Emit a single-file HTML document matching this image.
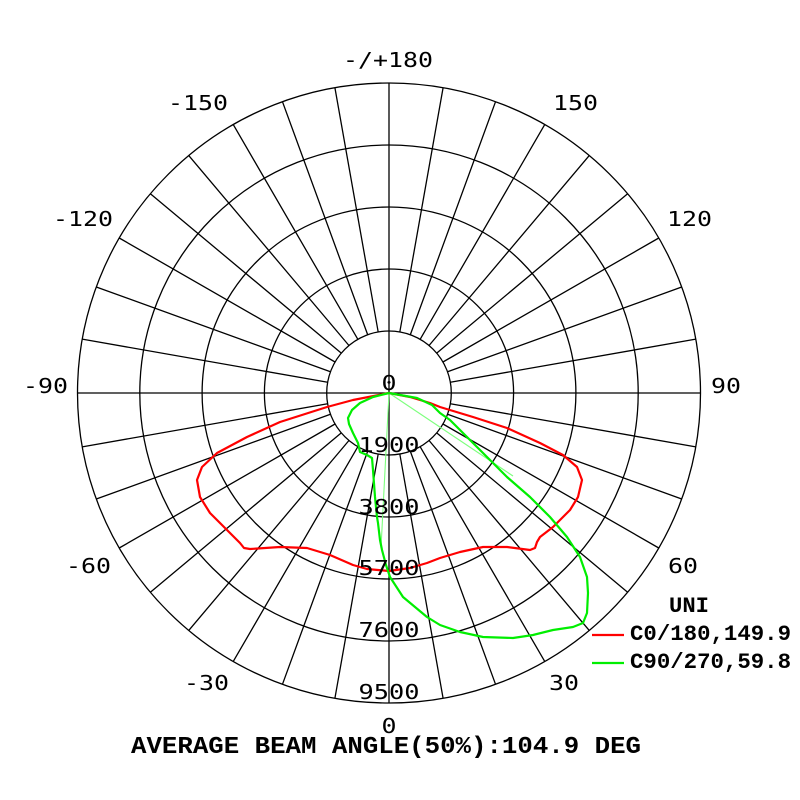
<!DOCTYPE html>
<html>
<head>
<meta charset="utf-8">
<style>
html,body{margin:0;padding:0;background:#fff;}
svg{display:block;}
.lab{font-family:"DejaVu Sans Mono","Liberation Mono",monospace;font-size:20px;fill:#000;}
.cour{font-family:"Liberation Mono","Courier New",monospace;font-weight:bold;fill:#000;}
</style>
</head>
<body>
<svg width="800" height="800" viewBox="0 0 800 800" xmlns="http://www.w3.org/2000/svg">
<rect x="0" y="0" width="800" height="800" fill="#fff"/>
<g transform="translate(389,393)" fill="none" stroke="#000" stroke-width="1.3">
  <ellipse cx="0" cy="0" rx="62.3" ry="62"/>
  <ellipse cx="0" cy="0" rx="124.6" ry="124"/>
  <ellipse cx="0" cy="0" rx="186.9" ry="186"/>
  <ellipse cx="0" cy="0" rx="249.2" ry="248"/>
  <ellipse cx="0" cy="0" rx="311.5" ry="310"/>
  <path d="M-311.5 0H311.5M0 -310V310
  M10.82 61.06L54.09 305.29M-10.82 61.06L-54.09 305.29M10.82 -61.06L54.09 -305.29M-10.82 -61.06L-54.09 -305.29
  M21.31 58.26L106.54 291.3M-21.31 58.26L-106.54 291.3M21.31 -58.26L106.54 -291.3M-21.31 -58.26L-106.54 -291.3
  M31.15 53.69L155.75 268.47M-31.15 53.69L-155.75 268.47M31.15 -53.69L155.75 -268.47M-31.15 -53.69L-155.75 -268.47
  M40.05 47.49L200.23 237.47M-40.05 47.49L-200.23 237.47M40.05 -47.49L200.23 -237.47M-40.05 -47.49L-200.23 -237.47
  M47.72 39.85L238.62 199.26M-47.72 39.85L-238.62 199.26M47.72 -39.85L238.62 -199.26M-47.72 -39.85L-238.62 -199.26
  M53.95 31L269.77 155M-53.95 31L-269.77 155M53.95 -31L269.77 -155M-53.95 -31L-269.77 -155
  M58.54 21.21L292.71 106.03M-58.54 21.21L-292.71 106.03M58.54 -21.21L292.71 -106.03M-58.54 -21.21L-292.71 -106.03
  M61.35 10.77L306.77 53.83M-61.35 10.77L-306.77 53.83M61.35 -10.77L306.77 -53.83M-61.35 -10.77L-306.77 -53.83"/>
</g>

<!-- thin beam-angle lines -->
<line x1="389" y1="393" x2="513" y2="476" stroke="#7dff7d" stroke-width="1.1"/>
<line x1="389" y1="393" x2="381" y2="548" stroke="#7dff7d" stroke-width="1.1"/>

<!-- red C0/180 curve -->
<polyline fill="none" stroke="#ff0000" stroke-width="2.2" stroke-linejoin="round" points="
389,393 353,400 327,407 280,422 247,437 217,453 202,467 197,480 200,497 210,513 230,533 240,543 244,548 250,549 280,547 307,548 330,555 353,565 367,569 389,571 410,568 427,563 440,558 460,552 483,547 507,547 530,550 535,548 537,542 540,537 553,527 570,510 578,497 582,480 577,467 563,455 540,443 507,428 473,417 440,407 430,403 410,397 389,393"/>

<!-- green C90/270 curve -->
<polyline fill="none" stroke="#00ee00" stroke-width="2.2" stroke-linejoin="round" points="
389,393 417,398 432,405 440,413 450,420 460,430 483,453 507,477 530,497 550,517 567,537 580,557 587,577 588,593 587,613 583,623 573,627 553,630 533,635 513,638 483,637 460,632 440,625 427,617 403,597 390,577 386,565 382,550 380,540 378,523 377,517 375,497 373,470 372,458 367,455 360,452 358,443 353,433 349,424 348,418 352,410 360,403 373,397 389,393"/>

<!-- angle labels -->
<text class="lab" x="388" y="67" text-anchor="middle" textLength="90" lengthAdjust="spacingAndGlyphs">-/+180</text>
<text class="lab" x="553" y="110" textLength="45" lengthAdjust="spacingAndGlyphs">150</text>
<text class="lab" x="228" y="110" text-anchor="end" textLength="60" lengthAdjust="spacingAndGlyphs">-150</text>
<text class="lab" x="667" y="226" textLength="45" lengthAdjust="spacingAndGlyphs">120</text>
<text class="lab" x="113" y="226" text-anchor="end" textLength="60" lengthAdjust="spacingAndGlyphs">-120</text>
<text class="lab" x="711" y="393" textLength="30" lengthAdjust="spacingAndGlyphs">90</text>
<text class="lab" x="68" y="393" text-anchor="end" textLength="45" lengthAdjust="spacingAndGlyphs">-90</text>
<text class="lab" x="668" y="573" textLength="30" lengthAdjust="spacingAndGlyphs">60</text>
<text class="lab" x="111" y="573" text-anchor="end" textLength="45" lengthAdjust="spacingAndGlyphs">-60</text>
<text class="lab" x="549" y="690" textLength="30" lengthAdjust="spacingAndGlyphs">30</text>
<text class="lab" x="229" y="690" text-anchor="end" textLength="45" lengthAdjust="spacingAndGlyphs">-30</text>
<text class="lab" x="389" y="733" text-anchor="middle" textLength="15" lengthAdjust="spacingAndGlyphs">0</text>

<!-- ring labels -->
<text class="lab" x="389" y="390" text-anchor="middle" textLength="15" lengthAdjust="spacingAndGlyphs">0</text>
<text class="lab" x="389" y="452" text-anchor="middle" textLength="61" lengthAdjust="spacingAndGlyphs">1900</text>
<text class="lab" x="389" y="514" text-anchor="middle" textLength="61" lengthAdjust="spacingAndGlyphs">3800</text>
<text class="lab" x="389" y="575" text-anchor="middle" textLength="61" lengthAdjust="spacingAndGlyphs">5700</text>
<text class="lab" x="389" y="637" text-anchor="middle" textLength="61" lengthAdjust="spacingAndGlyphs">7600</text>
<text class="lab" x="389" y="699" text-anchor="middle" textLength="61" lengthAdjust="spacingAndGlyphs">9500</text>

<!-- legend -->
<text class="cour" x="669" y="612" font-size="22" textLength="40" lengthAdjust="spacingAndGlyphs">UNI</text>
<line x1="592" y1="635" x2="624" y2="635" stroke="#ff0000" stroke-width="2.2"/>
<text class="cour" x="630" y="640" font-size="22" textLength="161" lengthAdjust="spacingAndGlyphs">C0/180,149.9</text>
<line x1="592" y1="663" x2="624" y2="663" stroke="#00ee00" stroke-width="2.2"/>
<text class="cour" x="630" y="668" font-size="22" textLength="161" lengthAdjust="spacingAndGlyphs">C90/270,59.8</text>

<!-- title -->
<text class="cour" x="131" y="753" font-size="24" textLength="510" lengthAdjust="spacingAndGlyphs">AVERAGE BEAM ANGLE(50%):104.9 DEG</text>
</svg>
</body>
</html>
